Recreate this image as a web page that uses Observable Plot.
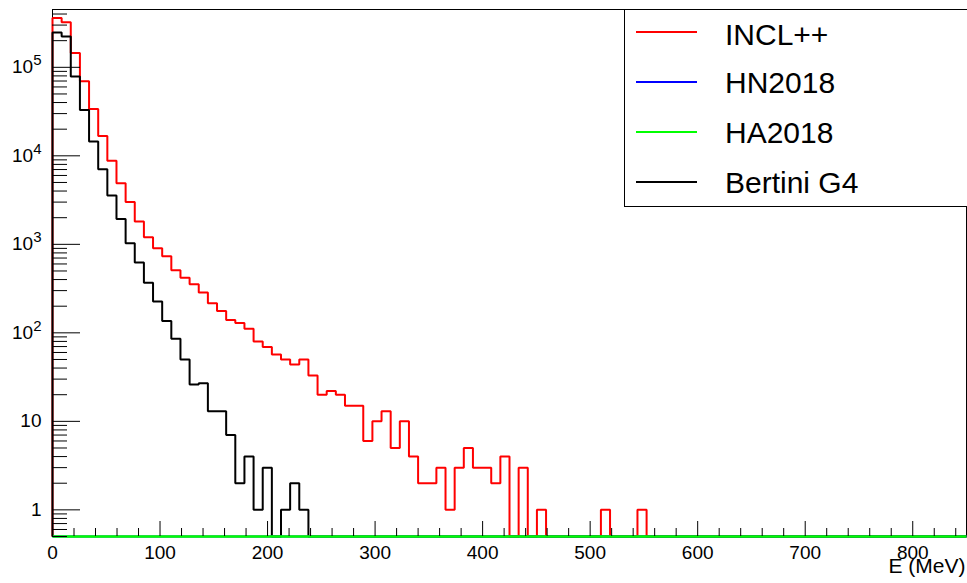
<!DOCTYPE html>
<html>
<head>
<meta charset="utf-8">
<script src="https://cdn.jsdelivr.net/npm/d3@7"></script>
<script src="https://cdn.jsdelivr.net/npm/@observablehq/plot@0.6"></script>
<style>
html, body { margin: 0; padding: 0; background: #fff; }
#wrap { position: relative; width: 967px; height: 583px; overflow: hidden;
  font-family: "Liberation Sans", Arial, Helvetica, sans-serif; }
#legend { position: absolute; left: 624px; top: 9px; width: 350px; height: 198px;
  border: 1px solid #000; background: #fff; box-sizing: border-box; }
.swatch { position: absolute; left: 11px; width: 61px; height: 2px; }
.lab { position: absolute; left: 100px; font-size: 30px; line-height: 30px;
  white-space: nowrap; color: #000; }
</style>
</head>
<body>
<div id="wrap"></div>
<script>
// ---- data (100 bins of 8.5 MeV, 0 – 850 MeV) ----
const binWidth = 8.5;
const seriesNames = ["INCL++", "HN2018", "HA2018", "Bertini G4"];
const seriesColors = ["#ff0000", "#0000ff", "#00ff00", "#000000"];

const inclValues = [
  360000, 324000, 145000, 69500, 33700, 16800, 8790, 4900, 3000, 1810,
  1205, 906, 735, 510, 418, 355, 285, 216, 177, 140,
  129, 111, 80, 69, 57, 50, 44, 50, 33, 20,
  22, 20, 15, 15, 6, 10, 13, 5, 10, 4,
  2, 2, 3, 1, 3, 5, 3, 3, 2, 4,
  0, 3, 0, 1, 0, 0, 0, 0, 0, 0,
  1, 0, 0, 0, 1, 0, 0, 0, 0, 0,
  0, 0, 0, 0, 0, 0, 0, 0, 0, 0,
  0, 0, 0, 0, 0, 0, 0, 0, 0, 0,
  0, 0, 0, 0, 0, 0, 0, 0, 0, 0
];
const hn2018Values = [
  0, 0, 0, 0, 0, 0, 0, 0, 0, 0,  0, 0, 0, 0, 0, 0, 0, 0, 0, 0,
  0, 0, 0, 0, 0, 0, 0, 0, 0, 0,  0, 0, 0, 0, 0, 0, 0, 0, 0, 0,
  0, 0, 0, 0, 0, 0, 0, 0, 0, 0,  0, 0, 0, 0, 0, 0, 0, 0, 0, 0,
  0, 0, 0, 0, 0, 0, 0, 0, 0, 0,  0, 0, 0, 0, 0, 0, 0, 0, 0, 0,
  0, 0, 0, 0, 0, 0, 0, 0, 0, 0,  0, 0, 0, 0, 0, 0, 0, 0, 0, 0
];
const ha2018Values = [
  0, 0, 0, 0, 0, 0, 0, 0, 0, 0,  0, 0, 0, 0, 0, 0, 0, 0, 0, 0,
  0, 0, 0, 0, 0, 0, 0, 0, 0, 0,  0, 0, 0, 0, 0, 0, 0, 0, 0, 0,
  0, 0, 0, 0, 0, 0, 0, 0, 0, 0,  0, 0, 0, 0, 0, 0, 0, 0, 0, 0,
  0, 0, 0, 0, 0, 0, 0, 0, 0, 0,  0, 0, 0, 0, 0, 0, 0, 0, 0, 0,
  0, 0, 0, 0, 0, 0, 0, 0, 0, 0,  0, 0, 0, 0, 0, 0, 0, 0, 0, 0
];
const bertiniValues = [
  247000, 223000, 78700, 33000, 14500, 7070, 3560, 1930, 1031, 622,
  368, 226, 136, 86, 50, 26, 27, 13, 13, 7,
  2, 4, 1, 3, 0, 1, 2, 1, 0, 0,
  0, 0, 0, 0, 0, 0, 0, 0, 0, 0,
  0, 0, 0, 0, 0, 0, 0, 0, 0, 0,
  0, 0, 0, 0, 0, 0, 0, 0, 0, 0,
  0, 0, 0, 0, 0, 0, 0, 0, 0, 0,
  0, 0, 0, 0, 0, 0, 0, 0, 0, 0,
  0, 0, 0, 0, 0, 0, 0, 0, 0, 0,
  0, 0, 0, 0, 0, 0, 0, 0, 0, 0
];

// tick labels
const xMajorTicks = [0, 100, 200, 300, 400, 500, 600, 700, 800];
const xMinorTicks = [20, 40, 60, 80, 120, 140, 160, 180, 220, 240, 260, 280,
  320, 340, 360, 380, 420, 440, 460, 480, 520, 540, 560, 580, 620, 640, 660, 680,
  720, 740, 760, 780, 820, 840];
const yMajorTicks = [1, 10, 100, 1000, 10000, 100000];
const yMajorLabels = ["1", "10", "10^2", "10^3", "10^4", "10^5"];
const xLabel = "E (MeV)";

// ---- scales ----
const xDomain = [0, 850];
const yDomain = [0.5, 450000];
const yMinorTicks = [];
for (const m of [5, 6, 7, 8, 9]) yMinorTicks.push(m / 10);
for (const d of [1, 10, 100, 1000, 10000]) for (let m = 2; m <= 9; m++) yMinorTicks.push(m * d);
for (const m of [2, 3, 4]) yMinorTicks.push(m * 100000);

// histogram outline points (zero bins drop to the frame bottom like ROOT)
function outline(values) {
  const yMin = yDomain[0];
  const pts = [{x: 0, y: yMin}];
  values.forEach((v, i) => {
    const y = v > 0 ? v : yMin;
    pts.push({x: i * binWidth, y}, {x: (i + 1) * binWidth, y});
  });
  pts.push({x: values.length * binWidth, y: yMin});
  return pts;
}

const allValues = [inclValues, hn2018Values, ha2018Values, bertiniValues];
const drawOrder = [0, 3, 1, 2];

const chart = Plot.plot({
  width: 967,
  height: 583,
  marginLeft: 52,
  marginRight: 1,
  marginTop: 9,
  marginBottom: 47,
  style: {fontFamily: "'Liberation Sans', Arial, Helvetica, sans-serif", fontSize: "19px", background: "#fff", color: "#000"},
  x: {domain: xDomain},
  y: {type: "log", domain: yDomain},
  marks: [
    Plot.frame({stroke: "#000", strokeWidth: 1}),
    ...drawOrder.map(k => Plot.line(outline(allValues[k]), {
      x: "x", y: "y", stroke: seriesColors[k],
      strokeWidth: k === 2 ? 2.5 : 2, strokeLinejoin: "miter", strokeLinecap: "butt"
    })),
    // y axis: inward ticks
    Plot.axisY({ticks: yMajorTicks, tickSize: -28, fill: "none", label: null}),
    Plot.axisY({ticks: yMinorTicks, tickSize: -15, fill: "none", label: null}),
    Plot.axisY({ticks: yMajorTicks, tickSize: 0, tickPadding: 11, stroke: "none", label: null,
      tickFormat: d => yMajorLabels[yMajorTicks.indexOf(d)], fontSize: 19}),
    // x axis
    Plot.axisX({ticks: xMajorTicks, tickSize: -15, fill: "none", label: null}),
    Plot.axisX({ticks: xMinorTicks, tickSize: -8, fill: "none", label: null}),
    Plot.axisX({ticks: xMajorTicks, tickSize: 0, tickPadding: 9, stroke: "none", label: null,
      tickFormat: d => String(d), fontSize: 19}),
    Plot.text([xLabel], {frameAnchor: "bottom-right", dx: -1, dy: 36, textAnchor: "end",
      fontSize: 21, fill: "#000"})
  ]
});

// superscript exponents on y labels
chart.querySelectorAll('g[aria-label="y-axis tick label"] text').forEach(t => {
  const s = t.textContent;
  if (s.includes("^")) {
    const [base, exp] = s.split("^");
    t.textContent = "";
    const a = document.createElementNS("http://www.w3.org/2000/svg", "tspan");
    a.textContent = base;
    const b = document.createElementNS("http://www.w3.org/2000/svg", "tspan");
    b.textContent = exp;
    b.setAttribute("font-size", "15");
    b.setAttribute("dy", "-8");
    t.appendChild(a); t.appendChild(b);
  }
});

const wrap = document.getElementById("wrap");
wrap.appendChild(chart);

// legend (inside the frame, top-right, ROOT style)
const legend = document.createElement("div");
legend.id = "legend";
const lineY = [22.3, 71.7, 122.3, 171.7];
const textTop = [9.6, 57.9, 107.9, 157.9];
seriesNames.forEach((name, i) => {
  const sw = document.createElement("div");
  sw.className = "swatch";
  sw.style.top = (lineY[i] - 1) + "px";
  sw.style.background = seriesColors[i];
  legend.appendChild(sw);
  const lb = document.createElement("div");
  lb.className = "lab";
  lb.style.top = textTop[i] + "px";
  lb.textContent = name;
  legend.appendChild(lb);
});
wrap.appendChild(legend);
</script>
</body>
</html>
